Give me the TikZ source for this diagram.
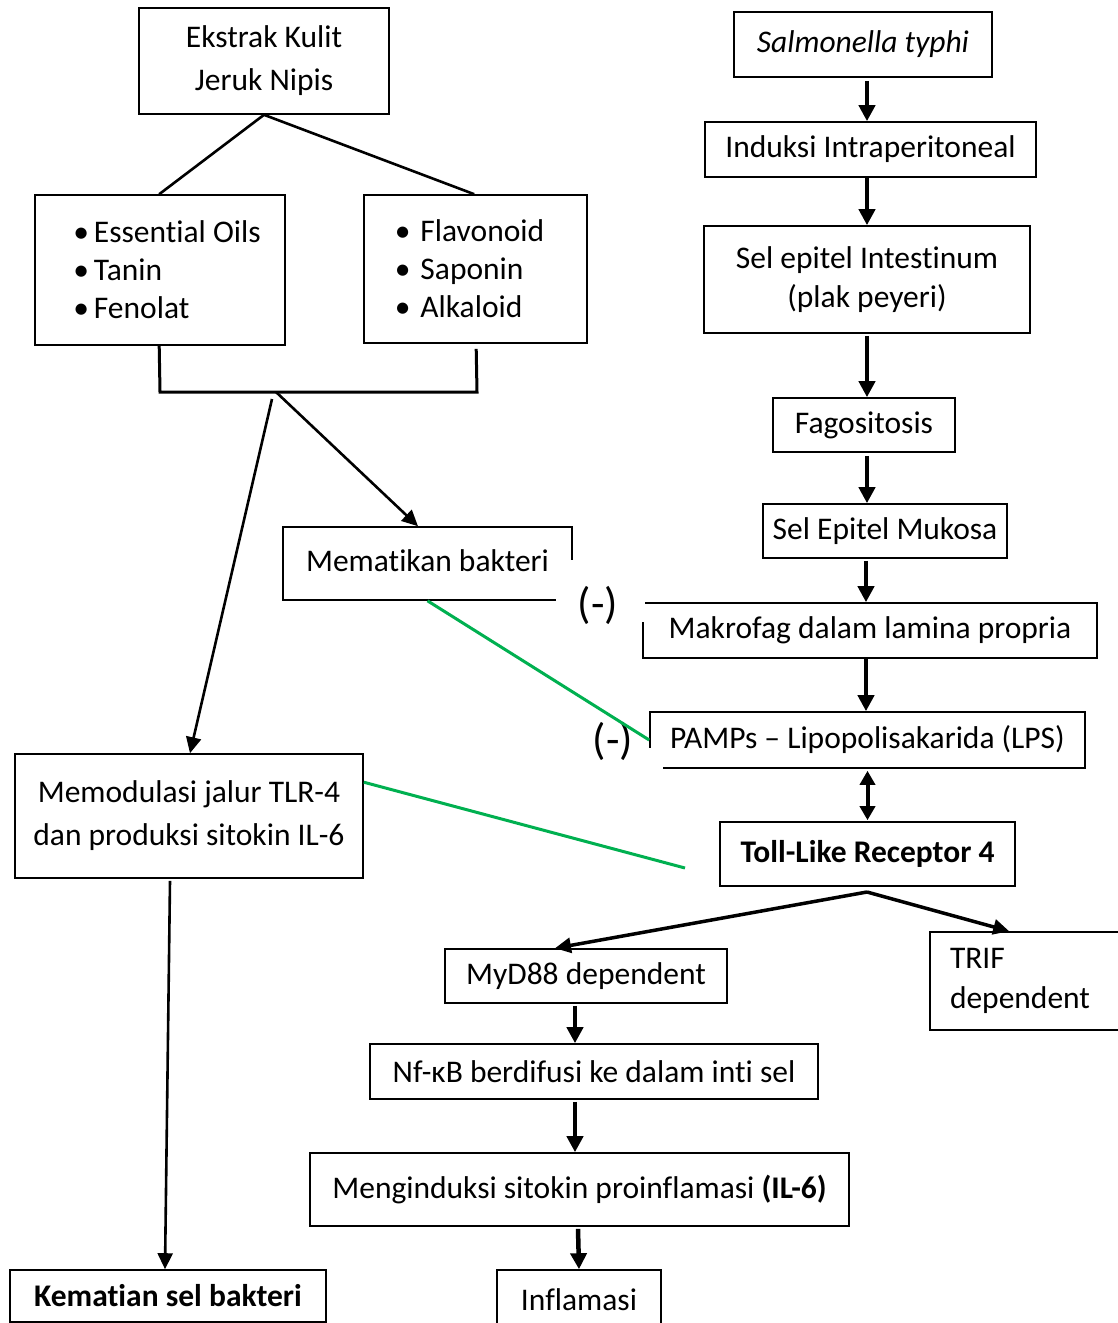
\documentclass[tikz,border=0pt]{standalone}
\usepackage{fontspec}
\setmainfont[Ligatures={NoCommon}]{Carlito}
\usetikzlibrary{arrows.meta,calc}
\begin{document}
\begin{tikzpicture}[x=1pt,y=-1pt,
  box/.style={draw, line width=1.6pt, inner sep=0pt, align=center, font=\fontsize{31.5}{43}\selectfont},
  bx/.style 2 args={minimum width=#1pt, minimum height=#2pt},
  thin/.style={line width=2.6pt},
  thinarr/.style={line width=2.6pt, -{Triangle[width=15pt,length=16pt]}},
  thickarr/.style={line width=4.5pt, -{Triangle[width=16pt,length=16pt]}},
  dblarr/.style={line width=4pt, {Triangle[width=15pt,length=14pt]}-{Triangle[width=15pt,length=14pt]}},
  inhib/.style={line width=3pt, draw={rgb,255:red,0;green,176;blue,80}},
  minus/.style={inner sep=0pt, font=\fontsize{44}{44}\selectfont}
]
\useasboundingbox (0,0) rectangle (1117,1323);
\fill[white] (0,0) rectangle (1117,1323);

% left column
\node[box, bx={250}{106}] (eks) at (264,61) {\raisebox{-2pt}{Ekstrak Kulit}\\\raisebox{-2pt}{Jeruk Nipis}};
\node[box, bx={250}{150}, align=left, font=\fontsize{31.5}{38}\selectfont] (lb) at (160,270)
  {\makebox[14pt]{}\textbullet\hspace{5pt}Essential Oils\\\makebox[14pt]{}\textbullet\hspace{5pt}Tanin\\\makebox[14pt]{}\textbullet\hspace{5pt}Fenolat};
\node[box, bx={223}{148}, align=left, font=\fontsize{31.5}{38}\selectfont] (rb) at (475.5,269)
  {\textbullet\hspace{10pt}Flavonoid\makebox[12pt]{}\\\textbullet\hspace{10pt}Saponin\\\textbullet\hspace{10pt}Alkaloid};
\node[box, bx={289}{73}] (mat) at (427.5,563.5) {\raisebox{6pt}{Mematikan bakteri}};
\node[box, bx={348}{124}] (mod) at (189,816) {Memodulasi jalur TLR-4\\dan produksi sitokin IL-6};
\node[box, bx={316}{52}] (kem) at (168,1296) {\bfseries Kematian sel bakteri};

% right column
\node[box, bx={258}{65}] (sal) at (863,44.5) {\itshape Salmonella typhi};
\node[box, bx={331}{55}] (ind) at (870.5,149.5) {\raisebox{-3pt}{Induksi Intraperitoneal}};
\node[box, bx={326}{107}, font=\fontsize{31.5}{39}\selectfont] (sep) at (867,279.5) {Sel epitel Intestinum\\(plak peyeri)};
\node[box, bx={182}{54}] (fag) at (864,425) {\raisebox{-3pt}{Fagositosis}};
\node[box, bx={244}{54}] (muk) at (885,531) {Sel Epitel Mukosa};
\node[box, bx={454}{55}] (mak) at (870,630.5) {Makrofag dalam lamina propria};
\node[box, bx={435}{56}] (pam) at (867.5,740) {PAMPs -- Lipopolisakarida (LPS)};
\node[box, bx={295}{64}] (tlr) at (867.5,854) {\bfseries Toll-Like Receptor 4};
\node[box, bx={282}{54}] (myd) at (586,976) {MyD88 dependent};
\node[box, minimum height=98pt, text width=160pt, inner xsep=20pt, align=left, font=\fontsize{31.5}{40}\selectfont] (trif) at (1030,981) {TRIF\\dependent};
\node[box, bx={448}{55}] (nfk) at (594,1071.5) {Nf-κB berdifusi ke dalam inti sel};
\node[box, bx={539}{73}] (men) at (579.5,1189.5) {\raisebox{3pt}{Menginduksi sitokin proinflamasi \textbf{(IL-6)}}};
\node[box, bx={164}{60}] (inf) at (579,1300) {Inflamasi};

% covers behind the (-) labels
\fill[white] (556,560) rectangle (645,622);
\fill[white] (570,748) rectangle (663,776);
\node[minus] (neg1) at (598,605) {(-)};
\node[minus] (neg2) at (613,741) {(-)};

% extract branches
\draw[thin] (eks.south) -- ([xshift=125pt]lb.north west);
\draw[thin] (eks.south) -- ([xshift=111pt]rb.north west);

% bracket
\coordinate (brL) at (160,392);
\coordinate (brR) at (477,392);
\coordinate (split) at (276,392);
\coordinate (splitL) at (272,399);
\draw[line width=3pt] ([xshift=125pt]lb.south west) -- (brL) -- (brR) -- ([xshift=113pt,yshift=-5pt]rb.south west);
\draw[thinarr] (split) -- ([xshift=-9.5pt]mat.north);
\draw[thinarr] (splitL) -- ([xshift=1pt]mod.north);
\draw[thinarr] ([xshift=-19pt,yshift=-2pt]mod.south) -- ([xshift=-3pt]kem.north);

% right chain
\draw[thickarr] ([xshift=4pt,yshift=-3pt]sal.south) -- ([xshift=-3.5pt]ind.north);
\draw[thickarr] ([xshift=-3.5pt]ind.south) -- (sep.north);
\draw[thickarr] ([yshift=-2pt]sep.south) -- ([xshift=3pt]fag.north);
\draw[thickarr] ([xshift=3pt,yshift=-3pt]fag.south) -- ([xshift=-18pt]muk.north);
\draw[thickarr] ([xshift=-19pt,yshift=-2pt]muk.south) -- ([xshift=-4pt]mak.north);
\draw[thickarr] ([xshift=-4pt]mak.south) -- ([xshift=-1.5pt]pam.north);
\draw[dblarr] ([yshift=-2pt]pam.south) -- ([yshift=1pt]tlr.north);

\coordinate (tsplit) at (867,892);
\draw[thinarr, line width=3.5pt] (tsplit) -- ([xshift=-31pt]myd.north);
\draw[thinarr, line width=3.5pt] (tsplit) -- ([xshift=80pt]trif.north west);
\draw[thickarr] ([xshift=-11pt,yshift=-2pt]myd.south) -- ([xshift=-19pt]nfk.north);
\draw[thickarr] ([xshift=-19pt,yshift=-2pt]nfk.south) -- ([xshift=-4.5pt]men.north);
\draw[thickarr] ([xshift=-1.5pt,yshift=-2pt]men.south) -- (inf.north);

% inhibition lines
\coordinate (tlrfree) at (685,868);
\draw[inhib] (mat.south) -- (pam.west);
\draw[inhib] ([yshift=-29pt]mod.north east) -- (tlrfree);
\end{tikzpicture}
\end{document}
